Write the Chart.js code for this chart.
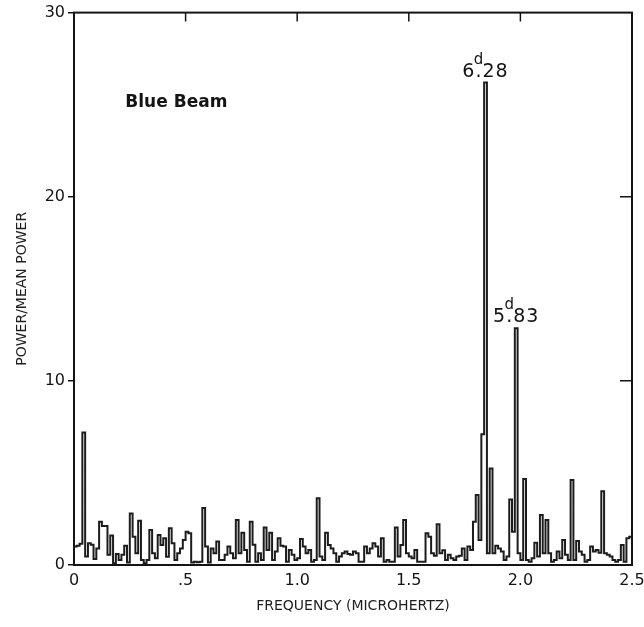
<!DOCTYPE html>
<html>
<head>
<meta charset="utf-8">
<script src="https://cdn.jsdelivr.net/npm/chart.js@4.4.1/dist/chart.umd.min.js"></script>
<style>
html,body{margin:0;padding:0;background:#fff;}
#wrap{width:644px;height:627px;position:relative;}
</style>
</head>
<body>
<div id="wrap"><canvas id="c" width="644" height="627"></canvas></div>
<script>
// ---- data ----
const binWidth = 0.0125; // microhertz per spectral bin
const power = [
  1.0, 1.05, 1.15, 7.2, 0.46, 1.18, 1.1, 0.33, 0.9, 2.35,
  2.12, 2.12, 0.55, 1.6, 0.09, 0.6, 0.27, 0.55, 1.05, 0.13,
  2.8, 1.54, 0.64, 2.4, 0.27, 0.09, 0.27, 1.9, 0.64, 0.37,
  1.63, 1.09, 1.45, 0.45, 1.99, 1.18, 0.27, 0.64, 0.9, 1.36,
  1.81, 1.72, 0.13, 0.18, 0.15, 0.18, 3.1, 1.0, 0.13, 0.9,
  0.64, 1.27, 0.27, 0.27, 0.55, 1.0, 0.64, 0.37, 2.44, 0.64,
  1.75, 0.82, 0.18, 2.35, 1.1, 0.18, 0.64, 0.27, 2.03, 0.82,
  1.75, 0.27, 0.73, 1.45, 1.05, 1.0, 0.18, 0.82, 0.55, 0.27,
  0.37, 1.41, 1.0, 0.64, 0.82, 0.18, 0.27, 3.62, 0.46, 0.27,
  1.75, 1.09, 0.9, 0.64, 0.18, 0.46, 0.64, 0.73, 0.6, 0.55,
  0.73, 0.64, 0.18, 0.18, 1.0, 0.64, 0.9, 1.18, 1.0, 0.46,
  1.45, 0.18, 0.27, 0.18, 0.18, 2.03, 0.46, 1.09, 2.44, 0.64,
  0.46, 0.37, 0.82, 0.18, 0.18, 0.18, 1.72, 1.54, 0.64, 0.5,
  2.21, 0.64, 0.8, 0.27, 0.55, 0.37, 0.27, 0.46, 0.5, 0.9,
  0.27, 1.0, 0.82, 2.35, 3.8, 1.36, 7.1, 26.2, 0.64, 5.24,
  0.64, 1.05, 0.9, 0.73, 0.27, 0.46, 3.56, 1.8, 12.86, 0.64,
  0.27, 4.67, 0.27, 0.18, 0.37, 1.21, 0.46, 2.71, 0.64, 2.44,
  0.64, 0.18, 0.27, 0.73, 0.37, 1.36, 0.55, 0.27, 4.61, 0.27,
  1.3, 0.73, 0.55, 0.18, 0.27, 1.0, 0.73, 0.82, 0.66, 4.0,
  0.64, 0.55, 0.46, 0.27, 0.18, 0.27, 1.09, 0.18, 1.45, 1.54
];
const xTicks = [0, 0.5, 1.0, 1.5, 2.0, 2.5];
const xTickLabels = ['0', '.5', '1.0', '1.5', '2.0', '2.5'];
const yTicks = [0, 10, 20, 30];
const yTickLabels = ['0', '10', '20', '30'];
const peakBins = [147, 158];
const peakWhole = ['6', '5'];
const peakFrac = ['.28', '.83'];
const peakUnit = 'd';
const panelLabel = 'Blue Beam';
const panelLabelAt = [0.23, 24.9];
const xTitle = 'FREQUENCY (MICROHERTZ)';
const yTitle = 'POWER/MEAN POWER';

// ---- build step series (each value holds across its bin) ----
const points = power.map((v, k) => ({x: k * binWidth, y: v}));
points.push({x: power.length * binWidth, y: power[power.length - 1]});

const FONT = '"DejaVu Sans", "Liberation Sans", sans-serif';
const INK = '#141414';

const framePlugin = {
  id: 'frame',
  afterDraw(chart) {
    const {ctx, chartArea: a, scales: {x, y}} = chart;
    ctx.save();
    ctx.strokeStyle = INK;
    ctx.lineWidth = 2;
    ctx.strokeRect(a.left, a.top, a.right - a.left, a.bottom - a.top);
    ctx.lineWidth = 1.5;
    ctx.beginPath();
    xTicks.slice(1, -1).forEach(v => {
      const px = x.getPixelForValue(v);
      ctx.moveTo(px, a.top); ctx.lineTo(px, a.top + 9);
    });
    yTicks.slice(1, -1).forEach(v => {
      const py = y.getPixelForValue(v);
      ctx.moveTo(a.right, py); ctx.lineTo(a.right - 12, py);
    });
    ctx.stroke();

    ctx.fillStyle = INK;
    ctx.textBaseline = 'alphabetic';
    // panel label
    ctx.font = 'bold 17px ' + FONT;
    ctx.textAlign = 'left';
    ctx.fillText(panelLabel, x.getPixelForValue(panelLabelAt[0]), y.getPixelForValue(panelLabelAt[1]));

    // peak period labels
    peakBins.forEach((b, i) => {
      const px = x.getPixelForValue((b + 0.5) * binWidth);
      const py = y.getPixelForValue(power[b]);
      ctx.font = '19px ' + FONT;
      ctx.letterSpacing = '1px';
      const whole = peakWhole[i], frac = peakFrac[i];
      const wWhole = ctx.measureText(whole).width;
      const wDot = ctx.measureText('.').width;
      const wAll = ctx.measureText(whole + frac).width;
      const x0 = px - wAll / 2;
      const base = py - 6;
      ctx.textAlign = 'left';
      ctx.fillText(whole + frac, x0, base);
      ctx.letterSpacing = '0px';
      ctx.font = '15px ' + FONT;
      ctx.textAlign = 'center';
      ctx.fillText(peakUnit, x0 + wWhole + (wDot - 1) / 2, base - 13);
    });
    ctx.restore();
  }
};

new Chart(document.getElementById('c'), {
  type: 'line',
  data: {
    datasets: [{
      data: points,
      stepped: true,
      borderColor: '#1c1c1c',
      borderWidth: 2,
      pointRadius: 0,
      fill: false,
      tension: 0
    }]
  },
  options: {
    responsive: false,
    devicePixelRatio: 1,
    animation: false,
    layout: {padding: {left: 0, top: 12, right: 12, bottom: 0}},
    plugins: {legend: {display: false}, tooltip: {enabled: false}},
    scales: {
      x: {
        type: 'linear',
        min: 0, max: 2.5,
        afterBuildTicks: s => { s.ticks = xTicks.map(v => ({value: v})); },
        afterFit: s => { s.height = 62; s.paddingLeft = 0; s.paddingRight = 0; },
        ticks: {
          callback: (v, i) => xTickLabels[i],
          font: {family: FONT, size: 16},
          color: INK,
          maxRotation: 0,
          autoSkip: false,
          padding: 6
        },
        grid: {display: true, drawOnChartArea: false, drawTicks: false},
        border: {display: true, color: INK, width: 2},
        title: {
          display: true, text: xTitle,
          font: {family: FONT, size: 14},
          color: '#1e1e1e',
          padding: {top: 0, bottom: 12}
        }
      },
      y: {
        type: 'linear',
        min: 0, max: 30,
        afterBuildTicks: s => { s.ticks = yTicks.map(v => ({value: v})); },
        afterFit: s => { s.width = 74; },
        ticks: {
          callback: (v, i) => yTickLabels[i],
          font: {family: FONT, size: 16},
          color: INK,
          padding: 3
        },
        grid: {display: true, drawOnChartArea: false, drawTicks: true, tickLength: 6, color: INK, lineWidth: 1.5},
        border: {display: true, color: INK, width: 2},
        title: {
          display: true, text: yTitle,
          font: {family: FONT, size: 14},
          color: '#1e1e1e',
          padding: {top: 14, bottom: 0}
        }
      }
    }
  },
  plugins: [framePlugin]
});
</script>
</body>
</html>
